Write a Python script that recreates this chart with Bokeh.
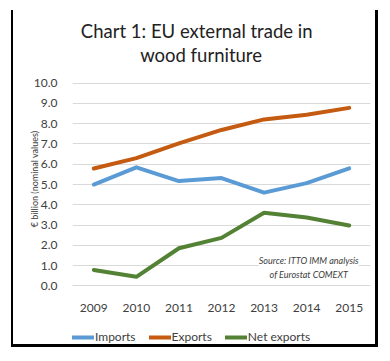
from bokeh.plotting import figure
from bokeh.models import (Label, Legend, LegendItem, Range1d, FactorRange, FixedTicker,
                          NumeralTickFormatter)
from bokeh.embed import file_html
from bokeh.resources import INLINE

years = ["2009", "2010", "2011", "2012", "2013", "2014", "2015"]
imports = [5.0, 5.85, 5.17, 5.32, 4.6, 5.07, 5.8]
exports = [5.79, 6.3, 7.03, 7.69, 8.21, 8.44, 8.78]
net_exports = [0.79, 0.45, 1.86, 2.37, 3.61, 3.37, 2.98]
y_ticks = [0, 1, 2, 3, 4, 5, 6, 7, 8, 9, 10]

title_lines = ["Chart 1: EU external trade in", "wood furniture"]
y_title = "€ billion (nominal values)"
source_text = "Source: ITTO IMM analysis\nof Eurostat COMEXT"
series_names = ["Imports", "Exports", "Net exports"]
colors = ["#5B9BD5", "#C55A11", "#548235"]

FONT = "Lato"

# the plot frame spans the whole box; value axis shows 0-10, the rest holds title and legend
p = figure(width=367, height=334, x_range=FactorRange(*years), y_range=Range1d(-3.035, 13.58),
           output_backend="svg", toolbar_location=None,
           min_border_left=59, min_border_right=10, min_border_top=0, min_border_bottom=0,
           styles={"margin-left": "11px", "margin-top": "10px", "height": "337px",
                   "border-left": "2px solid black", "border-right": "3px solid black",
                   "border-bottom": "3px solid black"})
p.outline_line_color = None
p.background_fill_color = "white"
p.border_fill_color = "white"

p.yaxis.ticker = FixedTicker(ticks=y_ticks)
p.yaxis.formatter = NumeralTickFormatter(format="0.0")
p.yaxis.axis_line_color = None
p.yaxis.major_tick_line_color = None
p.yaxis.minor_tick_line_color = None
p.yaxis.major_label_standoff = 9
p.yaxis.major_label_text_font = FONT
p.yaxis.major_label_text_font_size = "12px"
p.yaxis.major_label_text_color = "#404040"
p.yaxis.axis_label = y_title
p.yaxis.axis_label_text_font = FONT
p.yaxis.axis_label_text_font_size = "9px"
p.yaxis.axis_label_text_font_style = "normal"
p.yaxis.axis_label_text_color = "#404040"
p.yaxis.axis_label_standoff = -9

p.xaxis.fixed_location = 0
p.xaxis.axis_line_color = "#d9d9d9"
p.xaxis.major_tick_line_color = None
p.xaxis.minor_tick_line_color = None
p.xaxis.major_label_standoff = 12
p.xaxis.major_label_text_font = FONT
p.xaxis.major_label_text_font_size = "12px"
p.xaxis.major_label_text_color = "#404040"

p.xgrid.grid_line_color = None
p.ygrid.grid_line_color = "#d9d9d9"
p.ygrid.grid_line_width = 1

renderers = []
for vals, c in zip([imports, exports, net_exports], colors):
    r = p.line(years, vals, line_color=c, line_width=4, line_join="round", line_cap="round")
    renderers.append(r)

legend = Legend(items=[LegendItem(label=n, renderers=[r]) for n, r in zip(series_names, renderers)],
                orientation="horizontal", location=(0, 3),
                label_text_font=FONT, label_text_font_size="12px", label_text_color="#404040",
                glyph_width=22, glyph_height=14, label_height=14, label_standoff=1,
                spacing=13, padding=0, margin=0, border_line_color=None,
                background_fill_alpha=0)
p.add_layout(legend)

for txt, xx, yy in zip(title_lines, [2.917, 3.02], [12.57, 11.38]):
    p.add_layout(Label(x=xx, y=yy, text=txt, text_align="center", text_baseline="alphabetic",
                       text_font=FONT, text_font_size="18.5px", text_color="#222222"))

p.add_layout(Label(x=5.55, y=0.92, text=source_text, text_align="center", text_baseline="middle",
                   text_font=FONT, text_font_size="9px", text_font_style="italic", text_color="#404040",
                   background_fill_color="white", text_line_height=1.3))

open("out.html", "w").write(file_html(p, INLINE))
